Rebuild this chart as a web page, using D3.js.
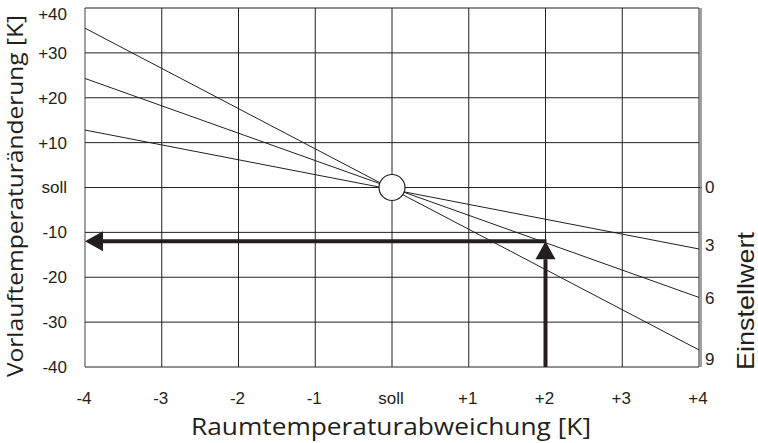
<!DOCTYPE html>
<html>
<head>
<meta charset="utf-8">
<script src="https://cdn.jsdelivr.net/npm/d3@7"></script>
<style>
  body { margin: 0; background: #fff; }
  text { font-family: "Liberation Sans", Arial, sans-serif; fill: #231f20; }
  .title { font-family: "Open Sans", "Noto Sans", sans-serif; }
</style>
</head>
<body>
<svg id="chart"></svg>
<script>
const width = 758;
const height = 443;

// axis ticks
const xTicks = [-4, -3, -2, -1, 0, 1, 2, 3, 4];
const xTickLabels = ['-4', '-3', '-2', '-1', 'soll', '+1', '+2', '+3', '+4'];
const yTicks = [-40, -30, -20, -10, 0, 10, 20, 30, 40];
const yTickLabels = ['-40', '-30', '-20', '-10', 'soll', '+10', '+20', '+30', '+40'];

// Einstellwert lines: value at x = -4 and at x = +4
const settings = ['3', '6', '9'];
const leftVals = [12.8, 24.3, 35.5];
const rightVals = [-13.7, -24.5, -36.2];

// right-hand Einstellwert labels
const einstellLabels = ['0', '3', '6', '9'];
const einstellVals = [0, -12.8, -24.6, -38.2];

// example reading
const readX = 2;
const readY = -12;

const svg = d3.select('#chart')
    .attr('width', width)
    .attr('height', height);

const x = d3.scaleLinear().domain([-4, 4]).range([85, 699]);
const y = d3.scaleLinear().domain([-40, 40]).range([367, 8]);

// grid
svg.append('g').selectAll('line.v').data(xTicks).enter().append('line')
    .attr('x1', d => x(d)).attr('x2', d => x(d))
    .attr('y1', y(40)).attr('y2', y(-40))
    .attr('stroke', (d, i) => i === 0 ? '#888' : '#222')
    .attr('stroke-width', (d, i) => i === 0 ? 1.6 : 1);

svg.append('g').selectAll('line.h').data(yTicks).enter().append('line')
    .attr('x1', x(-4)).attr('x2', d => d === 0 ? x(4) + 3 : x(4))
    .attr('y1', d => y(d)).attr('y2', d => y(d))
    .attr('stroke', '#222')
    .attr('stroke-width', 1);

// right border
svg.append('line')
    .attr('x1', x(4) + 2).attr('x2', x(4) + 2)
    .attr('y1', y(40)).attr('y2', y(-40))
    .attr('stroke', '#777').attr('stroke-width', 1.4);

// tick labels
svg.append('g').selectAll('text').data(xTicks).enter().append('text')
    .attr('x', d => x(d) - 1)
    .attr('y', 398)
    .attr('dy', '0.35em')
    .attr('text-anchor', 'middle')
    .attr('font-size', 17)
    .text((d, i) => xTickLabels[i]);

svg.append('g').selectAll('text').data(yTicks).enter().append('text')
    .attr('x', 67)
    .attr('y', d => Math.max(y(d), 14))
    .attr('dy', '0.35em')
    .attr('text-anchor', 'end')
    .attr('font-size', 17)
    .text((d, i) => yTickLabels[i]);

// Einstellwert lines
svg.append('g').selectAll('line').data(settings).enter().append('line')
    .attr('x1', x(-4)).attr('y1', (d, i) => y(leftVals[i]))
    .attr('x2', x(4)).attr('y2', (d, i) => y(rightVals[i]))
    .attr('stroke', '#231f20')
    .attr('stroke-width', 1);

svg.append('g').selectAll('text').data(einstellLabels).enter().append('text')
    .attr('x', x(4) + 6)
    .attr('y', (d, i) => y(einstellVals[i]))
    .attr('dy', '0.35em')
    .attr('font-size', 17)
    .text(d => d);

// soll point
svg.append('circle')
    .attr('cx', x(0)).attr('cy', y(0)).attr('r', 13)
    .attr('fill', '#fff')
    .attr('stroke', '#231f20')
    .attr('stroke-width', 1.2);

// reading arrows
const arrowCol = '#231f20';
const headLen = 18;
const headHalf = 10;

svg.append('line')
    .attr('x1', x(readX)).attr('x2', x(readX))
    .attr('y1', y(-40)).attr('y2', y(readY) + headLen)
    .attr('stroke', arrowCol).attr('stroke-width', 4);
svg.append('path')
    .attr('d', `M${x(readX)},${y(readY)} L${x(readX) - headHalf},${y(readY) + headLen} L${x(readX) + headHalf},${y(readY) + headLen} Z`)
    .attr('fill', arrowCol);

svg.append('line')
    .attr('x1', x(readX) + 1).attr('x2', x(-4) + headLen)
    .attr('y1', y(readY)).attr('y2', y(readY))
    .attr('stroke', arrowCol).attr('stroke-width', 4);
svg.append('path')
    .attr('d', `M${x(-4)},${y(readY)} L${x(-4) + headLen},${y(readY) - headHalf} L${x(-4) + headLen},${y(readY) + headHalf} Z`)
    .attr('fill', arrowCol);

// axis titles
svg.append('text')
    .attr('class', 'title')
    .attr('x', 391).attr('y', 427)
    .attr('dy', '0.35em')
    .attr('text-anchor', 'middle')
    .attr('font-size', 24)
    .attr('textLength', 400)
    .attr('lengthAdjust', 'spacingAndGlyphs')
    .text('Raumtemperaturabweichung [K]');

svg.append('text')
    .attr('class', 'title')
    .attr('transform', `translate(15, 196) rotate(-90)`)
    .attr('dy', '0.35em')
    .attr('text-anchor', 'middle')
    .attr('font-size', 22)
    .attr('textLength', 362)
    .attr('lengthAdjust', 'spacingAndGlyphs')
    .text('Vorlauftemperaturänderung [K]');

svg.append('text')
    .attr('transform', `translate(746, 301) rotate(-90)`)
    .attr('dy', '0.35em')
    .attr('text-anchor', 'middle')
    .attr('font-size', 24)
    .attr('textLength', 138)
    .attr('lengthAdjust', 'spacingAndGlyphs')
    .text('Einstellwert');
</script>
</body>
</html>
